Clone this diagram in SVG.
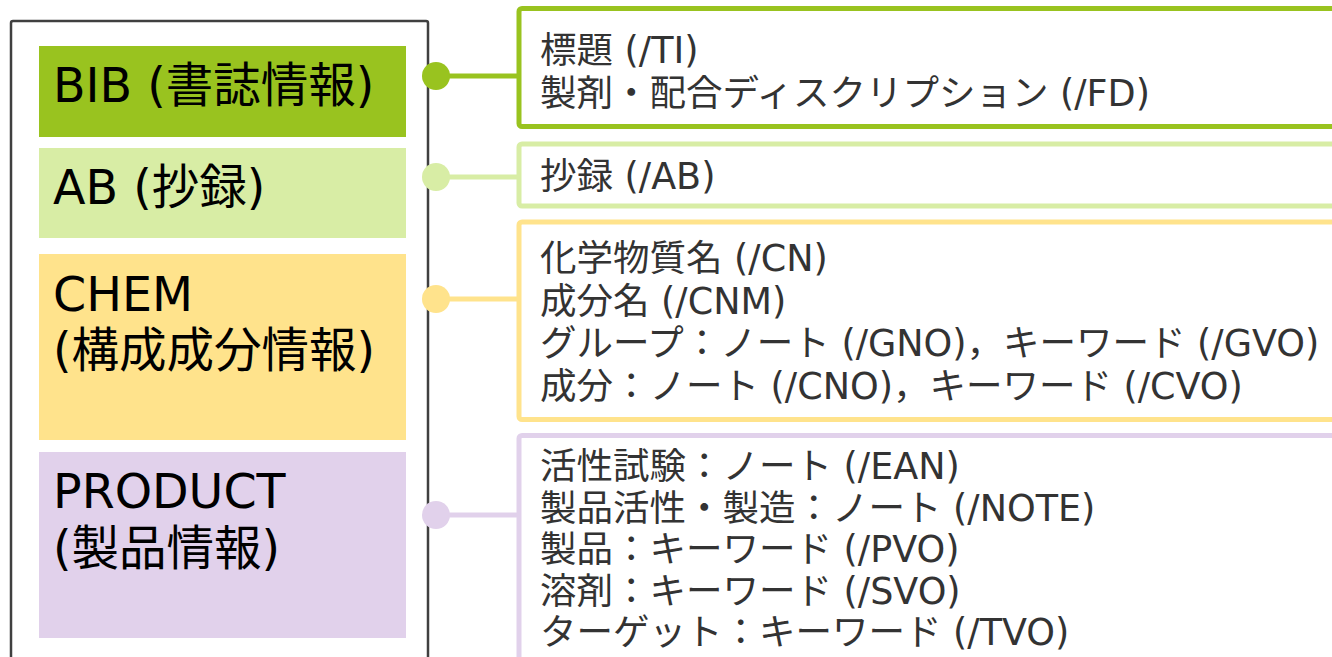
<svg xmlns="http://www.w3.org/2000/svg" width="1332" height="657" viewBox="0 0 1332 657">
<style>
.lbl{font-family:"DejaVu Sans","Noto Sans CJK JP",sans-serif;font-size:47.5px;fill:#000}
.det{font-family:"DejaVu Sans","Noto Sans CJK JP",sans-serif;font-size:36.5px;fill:#333}
.outer{fill:#fff;stroke:#404040;stroke-width:2.5}
.g1{fill:#99C31F}.g1s{stroke:#99C31F}
.g2{fill:#D8EDA5}.g2s{stroke:#D8EDA5}
.g3{fill:#FFE38C}.g3s{stroke:#FFE38C}
.g4{fill:#E1D1EB}.g4s{stroke:#E1D1EB}
.panel{fill:#fff;stroke-width:5}
.conn{stroke-width:5;fill:none}
</style>
<rect width="1332" height="657" fill="#fff"/>
<g id="container">
<rect class="outer" x="11" y="21" width="417" height="700" rx="2"/>
</g>
<g id="bib">
<rect class="g1" x="39" y="46" width="367" height="91"/>
<text class="lbl" x="53" y="102">BIB (書誌情報)</text>
</g>
<g id="ab">
<rect class="g2" x="39" y="148" width="367" height="90"/>
<text class="lbl" x="53" y="204">AB (抄録)</text>
</g>
<g id="chem">
<rect class="g3" x="39" y="254" width="367" height="186"/>
<text class="lbl" x="53" y="311">CHEM</text>
<text class="lbl" x="53" y="367">(構成成分情報)</text>
</g>
<g id="product">
<rect class="g4" x="39" y="452" width="367" height="186"/>
<text class="lbl" x="53" y="508">PRODUCT</text>
<text class="lbl" x="53" y="565">(製品情報)</text>
</g>
<g id="bib-fields">
<rect class="panel g1s" x="519" y="8.5" width="830" height="118" rx="3"/>
<text class="det" x="540" y="63">標題 (/TI)</text>
<text class="det" x="540" y="106">製剤・配合ディスクリプション (/FD)</text>
</g>
<g id="ab-fields">
<rect class="panel g2s" x="519" y="144" width="830" height="62" rx="3"/>
<text class="det" x="540" y="189">抄録 (/AB)</text>
</g>
<g id="chem-fields">
<rect class="panel g3s" x="519" y="222" width="830" height="197.5" rx="3"/>
<text class="det" x="540" y="271">化学物質名 (/CN)</text>
<text class="det" x="540" y="314">成分名 (/CNM)</text>
<text class="det" x="540" y="356">グループ：ノート (/GNO)，キーワード (/GVO)</text>
<text class="det" x="540" y="399">成分：ノート (/CNO)，キーワード (/CVO)</text>
</g>
<g id="product-fields">
<rect class="panel g4s" x="519" y="435.5" width="830" height="300" rx="3"/>
<text class="det" x="540" y="479">活性試験：ノート (/EAN)</text>
<text class="det" x="540" y="521">製品活性・製造：ノート (/NOTE)</text>
<text class="det" x="540" y="562">製品：キーワード (/PVO)</text>
<text class="det" x="540" y="604">溶剤：キーワード (/SVO)</text>
<text class="det" x="540" y="645">ターゲット：キーワード (/TVO)</text>
</g>
<g id="connectors">
<line class="conn g1s" x1="436" y1="76" x2="519" y2="76"/>
<circle class="g1" cx="436" cy="76" r="14"/>
<line class="conn g2s" x1="436" y1="177" x2="519" y2="177"/>
<circle class="g2" cx="436" cy="177" r="14"/>
<line class="conn g3s" x1="436" y1="299" x2="519" y2="299"/>
<circle class="g3" cx="436" cy="299" r="14"/>
<line class="conn g4s" x1="436" y1="515" x2="519" y2="515"/>
<circle class="g4" cx="436" cy="515" r="14"/>
</g>
</svg>
